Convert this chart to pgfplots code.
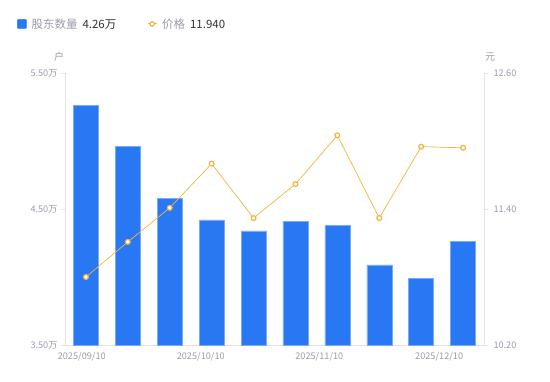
\documentclass[border=0pt]{standalone}
\usepackage{pgfplots}
\pgfplotsset{compat=1.18}
\usepackage{fontspec}
\setmainfont{Noto Sans CJK SC}
\definecolor{barblue}{HTML}{2878F4}
\definecolor{baredge}{HTML}{7AAAF8}
\definecolor{lineor}{HTML}{F7B23B}
\definecolor{tickgrey}{HTML}{9A9CAA}
\definecolor{axgrey}{HTML}{E3E4E8}
\definecolor{txtdark}{HTML}{333333}
\begin{document}
\begin{tikzpicture}[x=1bp,y=1bp]
\useasboundingbox (0,0) rectangle (550,381);
\pgfplotsset{
  common/.style={
    at={(65bp,36bp)}, anchor=south west,
    scale only axis, width=419bp, height=272bp,
    xmin=-0.5, xmax=9.5, clip mode=individual,
    /pgf/number format/assume math mode=true,
    tick label style={font=\fontsize{9.2}{10}\selectfont, text=tickgrey},
    axis line style={axgrey, line width=0.8bp},
    major tick style={axgrey, line width=0.8bp},
    tick align=outside, major tick length=4bp,
  }
}
\begin{axis}[common,
  ymin=3.5, ymax=5.5,
  ytick={3.5,4.5,5.5},
  yticklabels={3.50万,4.50万,5.50万},
  axis x line*=bottom, axis y line*=left,
  xtick={-0.1,2.74,5.57,8.43},
  xticklabels={2025/09/10,2025/10/10,2025/11/10,2025/12/10},
  x tick style={draw=none},
  legend style={at={(-48bp,321bp)}, anchor=west, draw=none, fill=none,
    legend columns=2, font=\fontsize{11.5}{13}\selectfont, text=txtdark,
    /tikz/every even column/.append style={column sep=29bp},
    legend cell align=left, inner sep=0pt},
  legend image code/.code={},
]
\addplot[ybar, bar width=25bp, fill=barblue, draw=baredge, line width=0.5bp, area legend,
  legend image code/.code={\fill[barblue, rounded corners=0.8bp] (0bp,-4.5bp) rectangle (9bp,4.5bp);}]
  coordinates {(0,5.26) (1,4.96) (2,4.58) (3,4.42) (4,4.34) (5,4.41) (6,4.38) (7,4.09) (8,3.99) (9,4.26)};
\addlegendentry{\hspace{3bp}\textcolor{tickgrey}{股东数量}\hspace{5bp}4.26万}
\addlegendimage{lineor, line width=0.8bp, legend image code/.code={\draw[lineor, line width=1bp] (0bp,0bp)--(9bp,0bp); \draw[lineor, fill=white, line width=1.2bp] (4.5bp,0bp) circle (2.2bp);}}
\addlegendentry{\hspace{3bp}\textcolor{tickgrey}{价格}\hspace{5bp}11.940}
\node[font=\fontsize{10}{12}\selectfont, text=tickgrey] at ([xshift=-6bp, yshift=16bp]rel axis cs:0,1) {户};
\end{axis}
\begin{axis}[common,
  ymin=10.2, ymax=12.6,
  ytick={10.2,11.4,12.6},
  yticklabels={10.20,11.40,12.60},
  axis x line=none, axis y line*=right,
  yticklabel style={xshift=2bp},
]
\addplot[lineor, line width=0.7bp, mark=*, mark size=2.4bp,
  mark options={fill=white, draw=lineor, line width=1.2bp}]
  coordinates {(0,10.80) (1,11.11) (2,11.41) (3,11.80) (4,11.32) (5,11.62) (6,12.05) (7,11.32) (8,11.95) (9,11.94)};
\node[font=\fontsize{10}{12}\selectfont, text=tickgrey] at ([xshift=6bp, yshift=16bp]rel axis cs:1,1) {元};
\end{axis}
\end{tikzpicture}
\end{document}
